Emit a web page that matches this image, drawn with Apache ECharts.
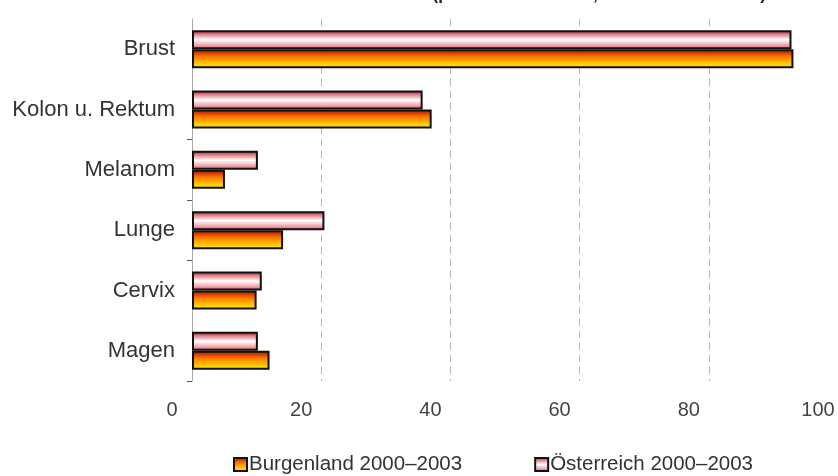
<!DOCTYPE html>
<html>
<head>
<meta charset="utf-8">
<script src="https://cdn.jsdelivr.net/npm/echarts@6/dist/echarts.min.js"></script>
<style>
  html, body { margin: 0; padding: 0; background: #fff; }
  #chart { width: 838px; height: 476px; }
</style>
</head>
<body>
<div id="chart"></div>
<script>
// Tumour sites, top to bottom
const categories = ['Brust', 'Kolon u. Rektum', 'Melanom', 'Lunge', 'Cervix', 'Magen'];
// Incidence per 100 000 women, age-standardised
const burgenland = [93.1, 37.1, 5.1, 14.1, 10.0, 12.0];
const oesterreich = [92.8, 35.7, 10.2, 20.5, 10.8, 10.2];
const seriesNames = ['Burgenland 2000–2003', 'Österreich 2000–2003'];
const xTicks = [0, 20, 40, 60, 80, 100];

const G = echarts.graphic.LinearGradient;
const orangeFill = new G(0, 0, 0, 1, [
  { offset: 0, color: '#6e1400' },
  { offset: 0.18, color: '#d63a00' },
  { offset: 0.4, color: '#ff7a00' },
  { offset: 0.75, color: '#ffc800' },
  { offset: 1, color: '#ffee10' }
]);
const pinkFill = new G(0, 0, 0, 1, [
  { offset: 0, color: '#7a1c24' },
  { offset: 0.2, color: '#e07880' },
  { offset: 0.5, color: '#ffffff' },
  { offset: 0.8, color: '#f0a0a8' },
  { offset: 1, color: '#c85a64' }
]);

const chart = echarts.init(document.getElementById('chart'), null, { renderer: 'canvas' });
chart.setOption({
  animation: false,
  backgroundColor: '#fff',
  textStyle: { fontFamily: 'Liberation Sans, Arial, sans-serif' },
  graphic: [{
    type: 'text',
    x: 766, y: 4,
    style: {
      text: 'Inzidenz nach Tumorlokalisation (pro 100 000 Frauen, altersstandardisiert)',
      align: 'right', verticalAlign: 'bottom',
      font: 'bold 17px "Liberation Sans", Arial, sans-serif',
      fill: '#222'
    }
  }],
  grid: { left: 192, right: -1, top: 19, height: 362, containLabel: false },
  legend: {
    top: 449,
    left: 228,
    itemGap: 72,
    itemWidth: 13,
    itemHeight: 13,
    icon: 'rect',
    textStyle: { fontSize: 20.5, color: '#333', padding: [0, 0, 0, -3] },
    data: seriesNames
  },
  xAxis: {
    type: 'value',
    min: 0, max: 100, interval: 20,
    axisLine: { show: false },
    axisTick: { show: false },
    splitLine: { show: true, lineStyle: { color: '#b8b8b8', width: 1, type: [7, 5] } },
    axisLabel: {
      fontSize: 20, color: '#444', margin: 19,
      padding: [0, 40, 0, 0],
      formatter: v => xTicks.includes(v) ? String(v) : ''
    }
  },
  yAxis: {
    type: 'category',
    inverse: true,
    data: categories,
    axisLine: { show: true, lineStyle: { color: '#a8a8a8', width: 1 } },
    axisTick: {
      show: true, length: 5, lineStyle: { color: '#555' },
      interval: (i) => i >= 2 && i <= 4
    },
    axisLabel: { fontSize: 22, color: '#333', margin: 17 }
  },
  series: [
    {
      name: seriesNames[1],
      type: 'bar',
      data: oesterreich,
      barWidth: 19,
      barGap: '0%',
      z: 3,
      itemStyle: { color: pinkFill, borderColor: '#111', borderWidth: 2 }
    },
    {
      name: seriesNames[0],
      type: 'bar',
      data: burgenland,
      barWidth: 19,
      barGap: '0%',
      z: 2,
      itemStyle: { color: orangeFill, borderColor: '#111', borderWidth: 2 }
    }
  ]
});
</script>
</body>
</html>
